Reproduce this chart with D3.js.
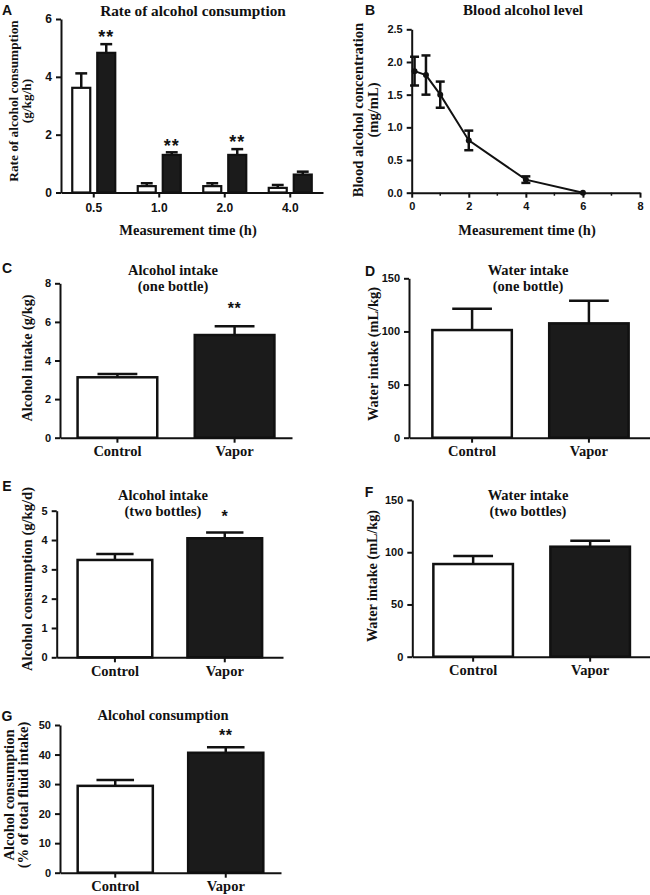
<!DOCTYPE html>
<html><head><meta charset="utf-8">
<script src="https://cdn.jsdelivr.net/npm/d3@7"></script>
<style>
body{margin:0;background:#fff;}
svg{display:block;}
.serif{font-family:"Liberation Serif","Times New Roman",serif;font-weight:bold;}
.sans{font-family:"Liberation Sans",Arial,sans-serif;font-weight:bold;}
</style></head>
<body>
<svg id="chart" width="650" height="895"></svg>
<script>
// ---------- DATA ----------
// Panel A
const groupsA = ["0.5", "1.0", "2.0", "4.0"];
const controlRateA = [3.62, 0.22, 0.22, 0.16];
const controlRateErrA = [0.50, 0.10, 0.10, 0.10];
const vaporRateA = [4.83, 1.30, 1.30, 0.62];
const vaporRateErrA = [0.30, 0.09, 0.20, 0.10];
const sigA = ["**", "**", "**", ""];
const yTicksA = [0, 2, 4, 6];

// Panel B
const timeB = [0.1, 0.5, 1, 2, 4, 6];
const bloodB = [1.86, 1.80, 1.50, 0.80, 0.20, 0.00];
const bloodErrB = [0.22, 0.30, 0.20, 0.15, 0.05, 0.00];
const xTicksB = [0, 2, 4, 6, 8];
const xMinorTicksB = [1, 3, 5, 7];
const yTicksB = [0, 0.5, 1.0, 1.5, 2.0, 2.5];

// Panels C-G
const groups = ["Control", "Vapor"];
const valuesC = [3.13, 5.32];
const errC = [0.17, 0.46];
const sigC = ["", "**"];
const yTicksC = [0, 2, 4, 6, 8];

const valuesD = [101.3, 107.6];
const errD = [20.0, 21.3];
const sigD = ["", ""];
const yTicksD = [0, 50, 100, 150];

const valuesE = [3.32, 4.06];
const errE = [0.20, 0.20];
const sigE = ["", "*"];
const yTicksE = [0, 1, 2, 3, 4, 5];

const valuesF = [88.7, 105.3];
const errF = [7.7, 5.7];
const sigF = ["", ""];
const yTicksF = [0, 50, 100, 150];

const valuesG = [29.4, 40.6];
const errG = [2.0, 1.9];
const sigG = ["", "**"];
const yTicksG = [0, 10, 20, 30, 40, 50];

// ---------- DRAWING ----------
const svg = d3.select("#chart");
const INK = "#111";
const DARK = "#1b1b1b";

function txt(g, x, y, s, cls, size, opts = {}) {
  const t = g.append("text").attr("x", x).attr("y", y).attr("class", cls)
    .attr("font-size", size).attr("fill", INK)
    .attr("text-anchor", opts.anchor || "middle")
    .attr("dominant-baseline", opts.baseline || "central")
    .text(s);
  if (opts.rotate) t.attr("transform", `rotate(-90,${x},${y})`);
  if (opts.ls) t.attr("letter-spacing", opts.ls);
  return t;
}

function styleAxis(g, fontCls, fontSize) {
  g.select(".domain").attr("stroke", INK).attr("stroke-width", 2);
  g.selectAll(".tick line").attr("stroke", INK).attr("stroke-width", 2);
  g.selectAll(".tick text").attr("class", fontCls).attr("font-size", fontSize).attr("fill", INK);
}

// star centred vertically at cy
function star(g, x, cy, s, size, ls) {
  if (!s) return;
  g.append("text").attr("class", "sans").attr("x", x).attr("y", cy + size * 0.57)
    .attr("font-size", size).attr("text-anchor", "middle").attr("fill", INK)
    .attr("letter-spacing", ls || 0).text(s);
}

// ----- Panel A -----
(function () {
  const g = svg.append("g");
  const x0 = 61, x1 = 323, yB = 192.5, yT = 19;
  const y = d3.scaleLinear().domain([0, 6]).range([yB, yT]);
  const x = d3.scaleBand().domain(groupsA).range([x0, x1]).padding(0);
  const sub = d3.scaleBand().domain(["control", "vapor"]).range([0, x.bandwidth()])
    .paddingInner(0.28).paddingOuter(0.45);
  const series = [
    {key: "control", vals: controlRateA, errs: controlRateErrA, fill: "#fff"},
    {key: "vapor", vals: vaporRateA, errs: vaporRateErrA, fill: DARK}
  ];
  const bw = sub.bandwidth();
  series.forEach(s => {
    groupsA.forEach((k, i) => {
      const bx = x(k) + sub(s.key);
      const top = y(s.vals[i] + s.errs[i]);
      const cx = bx + bw / 2;
      g.append("line").attr("x1", cx).attr("x2", cx).attr("y1", y(s.vals[i])).attr("y2", top)
        .attr("stroke", INK).attr("stroke-width", 2.5);
      g.append("line").attr("x1", cx - bw * 0.33).attr("x2", cx + bw * 0.33).attr("y1", top).attr("y2", top)
        .attr("stroke", INK).attr("stroke-width", 2.5);
      g.append("rect").attr("x", bx).attr("y", y(s.vals[i])).attr("width", bw)
        .attr("height", yB - y(s.vals[i])).attr("fill", s.fill).attr("stroke", INK).attr("stroke-width", 2.2);
      if (s.key === "vapor") star(g, cx, top - 11, sigA[i], 18, 1);
    });
  });
  const ya = g.append("g").attr("transform", `translate(${x0},0)`)
    .call(d3.axisLeft(y).tickValues(yTicksA).tickFormat(d3.format("d")).tickSize(5).tickPadding(4).tickSizeOuter(0));
  styleAxis(ya, "sans", 12);
  const xa = g.append("g").attr("transform", `translate(0,${yB})`)
    .call(d3.axisBottom(x).tickSize(5).tickPadding(6).tickSizeOuter(0));
  styleAxis(xa, "sans", 12);
  txt(g, 193, 10, "Rate of alcohol consumption", "serif", 15.3);
  txt(g, 13, 101, "Rate of alcohol consumption", "serif", 13.3, {rotate: true});
  txt(g, 26, 101, "(g/kg/h)", "serif", 13.3, {rotate: true});
  txt(g, 188, 230, "Measurement time (h)", "serif", 14.5);
  txt(g, 7, 10, "A", "sans", 14);
})();

// ----- Panel B -----
(function () {
  const g = svg.append("g");
  const x0 = 411.7, x1 = 640, yB = 192.7, yT = 29.3;
  const x = d3.scaleLinear().domain([0, 8]).range([x0, x1]);
  const y = d3.scaleLinear().domain([0, 2.5]).range([yB, yT]);
  const ya = g.append("g").attr("transform", `translate(${x0},0)`)
    .call(d3.axisLeft(y).tickValues(yTicksB).tickFormat(d3.format(".1f")).tickSize(5).tickPadding(4).tickSizeOuter(0));
  styleAxis(ya, "sans", 11);
  const xa = g.append("g").attr("transform", `translate(0,${yB})`)
    .call(d3.axisBottom(x).tickValues(xTicksB).tickFormat(d3.format("d")).tickSize(5).tickPadding(5).tickSizeOuter(0));
  styleAxis(xa, "sans", 11);
  g.append("g").selectAll("line").data(xMinorTicksB).join("line")
    .attr("x1", d => x(d)).attr("x2", d => x(d)).attr("y1", yB).attr("y2", yB + 3)
    .attr("stroke", INK).attr("stroke-width", 1.5);
  const pts = timeB.map((t, i) => ({t, v: bloodB[i], e: bloodErrB[i]}));
  g.append("path").datum(pts)
    .attr("d", d3.line().x(d => x(d.t)).y(d => y(d.v)))
    .attr("fill", "none").attr("stroke", INK).attr("stroke-width", 2);
  pts.forEach(d => {
    if (d.e > 0) {
      const cx = x(d.t), t = y(d.v + d.e), b = y(d.v - d.e);
      g.append("line").attr("x1", cx).attr("x2", cx).attr("y1", t).attr("y2", b).attr("stroke", INK).attr("stroke-width", 2.5);
      [t, b].forEach(yy => g.append("line").attr("x1", cx - 4.5).attr("x2", cx + 4.5).attr("y1", yy).attr("y2", yy)
        .attr("stroke", INK).attr("stroke-width", 2.5));
    }
    g.append("circle").attr("cx", x(d.t)).attr("cy", y(d.v)).attr("r", 3).attr("fill", INK);
  });
  txt(g, 523, 10, "Blood alcohol level", "serif", 15);
  txt(g, 358, 110, "Blood alcohol concentration", "serif", 14.6, {rotate: true});
  txt(g, 373, 110, "(mg/mL)", "serif", 14.6, {rotate: true});
  txt(g, 527, 230, "Measurement time (h)", "serif", 14.5);
  txt(g, 370, 10, "B", "sans", 14);
})();

// ----- Bar panels C-G -----
function barPanel(cfg) {
  const g = svg.append("g");
  const y = d3.scaleLinear().domain([0, cfg.yTicks[cfg.yTicks.length - 1]]).range([cfg.yB, cfg.yT]);
  const x = d3.scaleBand().domain(groups).range([cfg.x0, cfg.x1]).paddingInner(0.32).paddingOuter(cfg.po);
  const bw = x.bandwidth();
  groups.forEach((k, i) => {
    const bx = x(k), cx = bx + bw / 2;
    const top = y(cfg.values[i] + cfg.errs[i]);
    g.append("line").attr("x1", cx).attr("x2", cx).attr("y1", y(cfg.values[i])).attr("y2", top)
      .attr("stroke", INK).attr("stroke-width", 2.5);
    g.append("line").attr("x1", cx - bw * 0.25).attr("x2", cx + bw * 0.25).attr("y1", top).attr("y2", top)
      .attr("stroke", INK).attr("stroke-width", 2.5);
    g.append("rect").attr("x", bx).attr("y", y(cfg.values[i])).attr("width", bw)
      .attr("height", cfg.yB - y(cfg.values[i])).attr("fill", i === 0 ? "#fff" : DARK)
      .attr("stroke", INK).attr("stroke-width", 2.5);
    star(g, cx, top - cfg.starOff, cfg.sig[i], 16, 0.5);
  });
  const ya = g.append("g").attr("transform", `translate(${cfg.x0},0)`)
    .call(d3.axisLeft(y).tickValues(cfg.yTicks).tickFormat(d3.format("d")).tickSize(5).tickPadding(4).tickSizeOuter(0));
  styleAxis(ya, "sans", 11);
  const xa = g.append("g").attr("transform", `translate(0,${cfg.yB})`)
    .call(d3.axisBottom(x).tickSize(5).tickPadding(3).tickSizeOuter(0));
  styleAxis(xa, "serif", 14.5);
  cfg.title.forEach((t, j) => txt(g, cfg.tx, cfg.ty + j * 16, t, "serif", 14.5));
  cfg.ylab.forEach((t, j) => txt(g, cfg.lx[j], cfg.ly, t, "serif", cfg.ls, {rotate: true}));
  txt(g, cfg.letterX, cfg.letterY, cfg.letter, "sans", 14);
}

barPanel({values: valuesC, errs: errC, sig: sigC, yTicks: yTicksC,
  x0: 60, x1: 292, yB: 437.7, yT: 283.3, po: 0.15, starOff: 21,
  title: ["Alcohol intake", "(one bottle)"], tx: 173, ty: 270,
  ylab: ["Alcohol intake (g/kg)"], lx: [27], ly: 358, ls: 14.2, letter: "C", letterX: 7, letterY: 268});

barPanel({values: valuesD, errs: errD, sig: sigD, yTicks: yTicksD,
  x0: 409, x1: 652, yB: 437.7, yT: 278.3, po: 0.2, starOff: 20,
  title: ["Water intake", "(one bottle)"], tx: 528, ty: 270,
  ylab: ["Water intake (mL/kg)"], lx: [373], ly: 354, ls: 14.4, letter: "D", letterX: 370, letterY: 271});

barPanel({values: valuesE, errs: errE, sig: sigE, yTicks: yTicksE,
  x0: 56.7, x1: 283, yB: 657.3, yT: 510.7, po: 0.19, starOff: 20,
  title: ["Alcohol intake", "(two bottles)"], tx: 163, ty: 495,
  ylab: ["Alcohol consumption (g/kg/d)"], lx: [27], ly: 579, ls: 14.6, letter: "E", letterX: 7, letterY: 486});

barPanel({values: valuesF, errs: errF, sig: sigF, yTicks: yTicksF,
  x0: 412.3, x1: 651, yB: 656.7, yT: 500, po: 0.18, starOff: 20,
  title: ["Water intake", "(two bottles)"], tx: 528, ty: 495,
  ylab: ["Water intake (mL/kg)"], lx: [372], ly: 576, ls: 14.2, letter: "F", letterX: 369, letterY: 492});

barPanel({values: valuesG, errs: errG, sig: sigG, yTicks: yTicksG,
  x0: 60, x1: 281, yB: 872.7, yT: 725, po: 0.16, starOff: 15,
  title: ["Alcohol consumption"], tx: 163, ty: 715,
  ylab: ["Alcohol consumption", "(% of total fluid intake)"], lx: [9, 23], ly: 795, ls: 14.5, letter: "G", letterX: 7, letterY: 716});
</script>
</body></html>
